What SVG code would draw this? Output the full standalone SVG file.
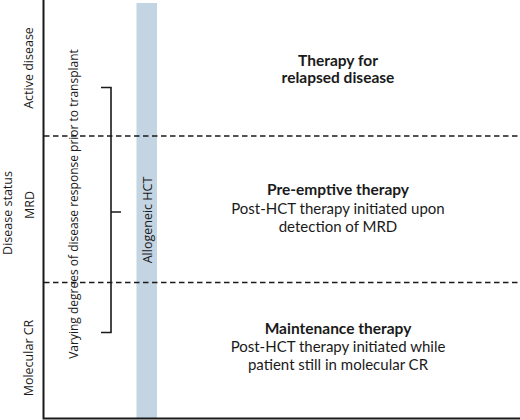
<svg xmlns="http://www.w3.org/2000/svg" width="520" height="420" viewBox="0 0 520 420">
<style>
.axis{stroke:#1a1a1a;stroke-width:2;fill:none}
.dash{stroke:#1a1a1a;stroke-width:1.6;stroke-dasharray:5.5 3.5;fill:none}
.br{stroke:#1a1a1a;stroke-width:1.6;fill:none}
.lab{font-family:"Open Sans","Noto Sans",sans-serif;font-size:12.5px;fill:#1a1a1a;text-anchor:middle}
.hd{font-family:Lato,"Noto Sans",sans-serif;font-size:15.5px;font-weight:bold;fill:#1a1a1a;text-anchor:middle}
.tx{font-family:Lato,"Noto Sans",sans-serif;font-size:15px;fill:#1a1a1a;text-anchor:middle}
</style>
<rect width="520" height="420" fill="#ffffff"/>
<g id="hct-bar">
<rect x="136.5" y="3" width="20.5" height="415" fill="#c3d4e2"/>
<text class="lab" transform="translate(152,220) rotate(-90)">Allogeneic HCT</text>
</g>
<g id="connectors">
<path class="axis" d="M43.5 0 V418.5 H520"/>
<path class="dash" d="M44 136 H520"/>
<path class="dash" d="M44 282.5 H520"/>
<path class="br" d="M101 87.5 H111 V332.5 H101 M111 212 H121"/>
</g>
<g id="axis-labels">
<text class="lab" transform="translate(12,213) rotate(-90)">Disease status</text>
<text class="lab" transform="translate(33,68) rotate(-90)">Active disease</text>
<text class="lab" transform="translate(34,205) rotate(-90)">MRD</text>
<text class="lab" transform="translate(33,358) rotate(-90)">Molecular CR</text>
<text class="lab" style="font-size:12px" transform="translate(78,204) rotate(-90)">Varying degrees of disease response prior to transplant</text>
</g>
<g id="relapsed">
<text class="hd" x="338" y="66">Therapy for</text>
<text class="hd" x="338" y="83">relapsed disease</text>
</g>
<g id="preemptive">
<text class="hd" x="338" y="195">Pre-emptive therapy</text>
<text class="tx" x="338" y="214">Post-HCT therapy initiated upon</text>
<text class="tx" x="338" y="232">detection of MRD</text>
</g>
<g id="maintenance">
<text class="hd" x="338" y="334">Maintenance therapy</text>
<text class="tx" x="338" y="352">Post-HCT therapy initiated while</text>
<text class="tx" x="338" y="370">patient still in molecular CR</text>
</g>
</svg>
